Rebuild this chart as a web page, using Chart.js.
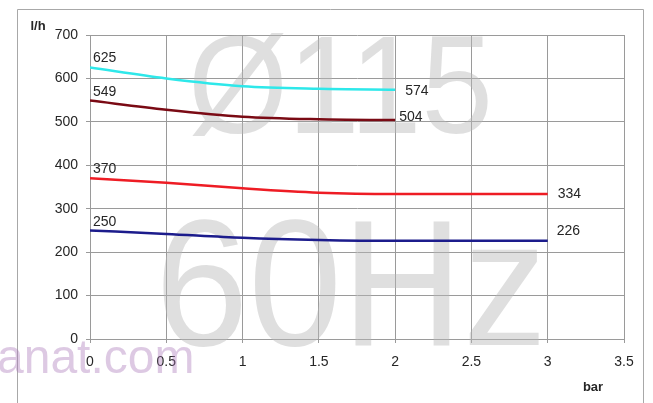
<!DOCTYPE html>
<html>
<head>
<meta charset="utf-8">
<script src="https://cdn.jsdelivr.net/npm/chart.js@4/dist/chart.umd.min.js"></script>
<style>
  html, body { margin: 0; padding: 0; background: #ffffff; }
  #wrap { width: 653px; height: 403px; position: relative; }
</style>
</head>
<body>
<div id="wrap"><canvas id="c" width="653" height="403"></canvas></div>
<script>
// ---- data ----
const pressureBar = [0, 0.5, 1, 1.5, 2, 2.5, 3];
const flowCyan    = [625, 600, 582, 576, 574];
const flowDarkRed = [549, 528, 512, 506, 504];
const flowRed     = [370, 360, 347, 337, 334, 334, 334];
const flowBlue    = [250, 242, 233, 228, 226, 226, 226];
const yTicks = [0, 100, 200, 300, 400, 500, 600, 700];
const xTicks = [0, 0.5, 1, 1.5, 2, 2.5, 3, 3.5];

function pts(vals) { return vals.map((v, i) => ({ x: pressureBar[i], y: v })); }

const FONT = '"Liberation Sans", Arial, sans-serif';

// label offsets (start label above-right of first point, end label right of last point)
const labelOffsets = [
  { start: [3, -9], end: [10, 1] },
  { start: [3, -8], end: [4, -3] },
  { start: [3, -9], end: [10, 0] },
  { start: [3, -8], end: [9, -10] }
];

const decor = {
  id: 'decor',
  beforeDraw(chart) {
    const ctx = chart.ctx;
    ctx.save();
    ctx.fillStyle = '#ffffff';
    ctx.fillRect(0, 0, chart.width, chart.height);
    // outer frame
    ctx.strokeStyle = '#a8a8a8';
    ctx.lineWidth = 1;
    ctx.beginPath();
    ctx.moveTo(17.5, 410); ctx.lineTo(17.5, 9.5); ctx.lineTo(643.5, 9.5); ctx.lineTo(643.5, 410);
    ctx.stroke();
    ctx.restore();
  },
  beforeDatasetsDraw(chart) {
    const ctx = chart.ctx;
    ctx.save();
    // watermark text
    ctx.fillStyle = 'rgba(185,185,185,0.45)';
    ctx.textBaseline = 'alphabetic';
    ctx.textAlign = 'left';
    ctx.font = '140px ' + FONT;
    let w = ctx.measureText('Ø115').width;
    ctx.save(); ctx.translate(188, 133); ctx.scale(305 / w, 1); ctx.fillText('Ø115', 0, 0); ctx.restore();
    ctx.font = '180px ' + FONT;
    w = ctx.measureText('60Hz').width;
    ctx.save(); ctx.translate(155, 345); ctx.scale(392 / w, 1); ctx.fillText('60Hz', 0, 0); ctx.restore();
    ctx.fillStyle = 'rgba(170,120,185,0.4)';
    ctx.font = '48px ' + FONT;
    ctx.fillText('anat.com', -3, 373);
    ctx.restore();
  },
  afterDatasetsDraw(chart) {
    const ctx = chart.ctx;
    ctx.save();
    ctx.font = '14px ' + FONT;
    ctx.fillStyle = '#262626';
    ctx.textBaseline = 'middle';
    ctx.textAlign = 'left';
    chart.data.datasets.forEach((ds, i) => {
      const meta = chart.getDatasetMeta(i);
      const first = meta.data[0], last = meta.data[meta.data.length - 1];
      const off = labelOffsets[i];
      ctx.fillText(String(ds.data[0].y), first.x + off.start[0], first.y + off.start[1]);
      ctx.fillText(String(ds.data[ds.data.length - 1].y), last.x + off.end[0], last.y + off.end[1]);
    });
    // axis titles
    ctx.font = 'bold 13px ' + FONT;
    ctx.textAlign = 'center';
    ctx.fillText('l/h', 38, 26);
    ctx.fillText('bar', 593, 387);
    ctx.restore();
  }
};

new Chart(document.getElementById('c'), {
  type: 'line',
  data: {
    datasets: [
      { data: pts(flowCyan),    borderColor: '#2ee8ea' },
      { data: pts(flowDarkRed), borderColor: '#7a0a14' },
      { data: pts(flowRed),     borderColor: '#ee1c24' },
      { data: pts(flowBlue),    borderColor: '#1c1c8c' }
    ].map(d => Object.assign(d, { borderWidth: 2.5, pointRadius: 0, cubicInterpolationMode: 'monotone', fill: false }))
  },
  options: {
    responsive: false,
    animation: false,
    layout: { padding: { left: 0, right: 29, top: 35, bottom: 0 } },
    plugins: { legend: { display: false }, tooltip: { enabled: false } },
    scales: {
      x: {
        type: 'linear', min: 0, max: 3.5,
        afterBuildTicks(s) { s.ticks = xTicks.map(v => ({ value: v })); },
        afterFit(s) { s.height = 64; },
        grid: { color: '#9a9a9a', lineWidth: 1, tickLength: 4, drawTicks: true },
        border: { color: '#9a9a9a' },
        ticks: { color: '#262626', padding: 11, maxRotation: 0, font: { family: FONT, size: 14 },
                 callback: v => String(v) }
      },
      y: {
        type: 'linear', min: 0, max: 700,
        afterBuildTicks(s) { s.ticks = yTicks.map(v => ({ value: v })); },
        afterFit(s) { s.width = 90; },
        grid: { color: '#9a9a9a', lineWidth: 1, tickLength: 4, drawTicks: true },
        border: { color: '#9a9a9a' },
        ticks: { color: '#262626', padding: 8, font: { family: FONT, size: 14 } }
      }
    }
  },
  plugins: [decor]
});
</script>
</body>
</html>
